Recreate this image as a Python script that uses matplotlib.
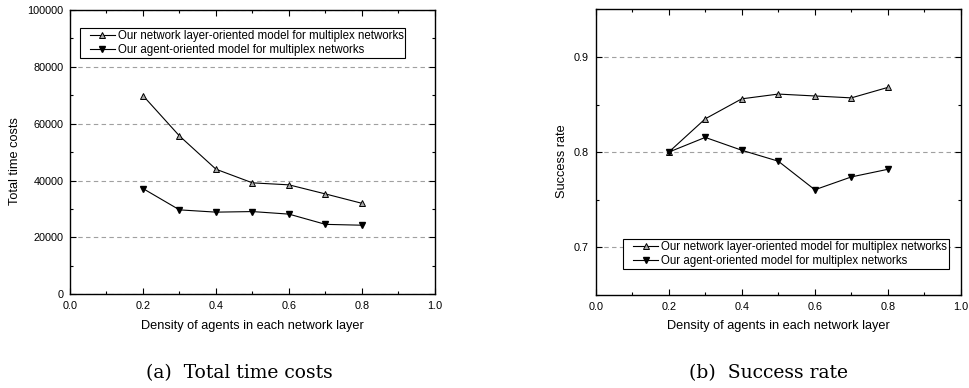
import matplotlib
matplotlib.use("Agg")
import matplotlib.pyplot as plt
from matplotlib.ticker import MultipleLocator
from matplotlib.legend_handler import HandlerLine2D

#---------------------------------------#
# DATA                                  #
#---------------------------------------#
# density of agents in each network layer
density = [0.2, 0.3, 0.4, 0.5, 0.6, 0.7, 0.8]
# total time costs
time_layer = [69900, 55700, 44000, 39200, 38500, 35300, 32000]
time_agent = [37200, 29700, 28900, 29100, 28200, 24600, 24300]
# success rate
rate_layer = [0.800, 0.835, 0.856, 0.861, 0.859, 0.857, 0.868]
rate_agent = [0.800, 0.8155, 0.802, 0.7905, 0.7605, 0.774, 0.782]

LABEL_LAYER = "Our network layer-oriented model for multiplex networks"
LABEL_AGENT = "Our agent-oriented model for multiplex networks"
X_LABEL = "Density of agents in each network layer"
#---------------------------------------#

plt.rcParams['font.family'] = ['Liberation Sans', 'DejaVu Sans']
plt.rcParams['font.size'] = 7.5

LEGEND_FS = 8.3
AXLABEL_FS = 9.2


def style_axes(ax):
    ax.tick_params(which='both', direction='in', top=True, right=True,
                   width=0.8, labelsize=7.8, pad=4.8)
    ax.tick_params(which='major', length=4)
    ax.tick_params(which='minor', length=2.5)
    for sp in ax.spines.values():
        sp.set_linewidth(1.0)
    ax.yaxis.grid(True, which='major', linestyle=(0, (4, 3)),
                  color='#a0a0a0', linewidth=0.8)
    ax.set_axisbelow(True)
    ax.set_xlim(0.0, 1.0)
    ax.xaxis.set_major_locator(MultipleLocator(0.2))
    ax.xaxis.set_minor_locator(MultipleLocator(0.1))
    ax.xaxis.set_major_formatter(lambda v, p: f"{v:.1f}")
    ax.set_xlabel(X_LABEL, fontsize=AXLABEL_FS)
    ax.xaxis.set_label_coords(0.5, -0.11)
    ax.xaxis.label.set_va('center')


def draw_series(ax, y_layer, y_agent):
    ax.plot(density, y_layer, color='black', linewidth=0.8, marker='^',
            markersize=4.6, markerfacecolor='#a8a8a8', markeredgecolor='black',
            markeredgewidth=0.7, label=LABEL_LAYER, zorder=3)
    ax.plot(density, y_agent, color='black', linewidth=0.8, marker='v',
            markersize=4.6, markerfacecolor='black', markeredgecolor='black',
            label=LABEL_AGENT, zorder=3)


def add_legend(ax, **kw):
    # leave a blank gap between the frame and the line sample
    handler = HandlerLine2D(xpad=0.69)
    leg = ax.legend(fontsize=LEGEND_FS, frameon=True, fancybox=False,
                    edgecolor='black', framealpha=1.0,
                    handlelength=2.86, handletextpad=0.25,
                    borderpad=0.17, labelspacing=0.22, borderaxespad=0,
                    handler_map={ax.lines[0]: handler, ax.lines[1]: handler},
                    **kw)
    leg.get_frame().set_linewidth(0.8)
    return leg


fig = plt.figure(figsize=(9.69, 3.88), dpi=100)

# (a) total time costs
ax1 = fig.add_axes([0.0722, 0.2415, 0.3767, 0.7327])
draw_series(ax1, time_layer, time_agent)
style_axes(ax1)
ax1.set_ylim(0, 100000)
ax1.yaxis.set_major_locator(MultipleLocator(20000))
ax1.yaxis.set_minor_locator(MultipleLocator(10000))
ax1.set_ylabel("Total time costs", fontsize=AXLABEL_FS)
ax1.yaxis.set_label_coords(-0.1506, 0.47)
ax1.yaxis.label.set_va('center')
add_legend(ax1, loc='upper left', bbox_to_anchor=(0.027, 0.938))

# (b) success rate
ax2 = fig.add_axes([0.6147, 0.2397, 0.377, 0.7363])
draw_series(ax2, rate_layer, rate_agent)
style_axes(ax2)
ax2.set_ylim(0.65, 0.95)
ax2.yaxis.set_major_locator(MultipleLocator(0.1))
ax2.yaxis.set_minor_locator(MultipleLocator(0.05))
ax2.yaxis.set_major_formatter(lambda v, p: f"{v:.1f}")
ax2.set_ylabel("Success rate", fontsize=AXLABEL_FS)
ax2.yaxis.set_label_coords(-0.092, 0.47)
ax2.yaxis.label.set_va('center')
add_legend(ax2, loc='lower right', bbox_to_anchor=(0.967, 0.09))

# sub-figure captions
fig.text(0.2466, 0.0394, "(a)  Total time costs", ha='center', va='center',
         fontsize=13.5, family=['DejaVu Serif'])
fig.text(0.7926, 0.0394, "(b)  Success rate", ha='center', va='center',
         fontsize=13.5, family=['DejaVu Serif'])

fig.savefig("out.png", dpi=100)
